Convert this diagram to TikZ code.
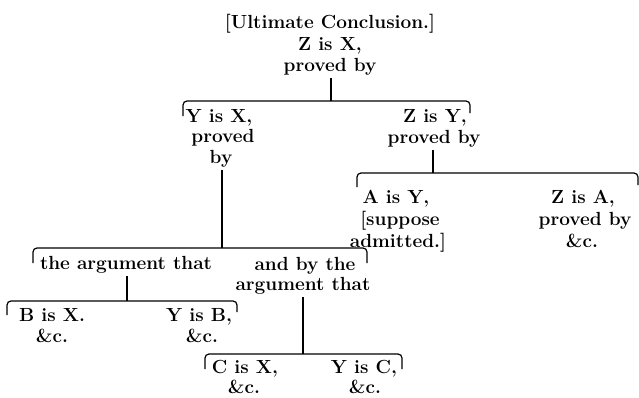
\documentclass[tikz,border=0pt]{standalone}
\usepackage{fontspec}
\begin{document}
\begin{tikzpicture}[x=1pt,y=-1pt,
  lbl/.style={font=\bfseries\fontsize{19}{21}\selectfont, inner sep=0pt, anchor=base},
  brk/.style={line width=1.2pt, rounded corners=4pt},
  stem/.style={line width=1.2pt, shorten <=3pt}]
\useasboundingbox (0,0) rectangle (639,397);
% top
\node[lbl] (uc) at (330,28) {[Ultimate Conclusion.]};
\node[lbl] (zx) at (330,50) {Z is X,};
\node[lbl] (pb0) at (330,71) {proved by};
\coordinate (b1) at (331,101);
\draw[stem] (b1 |- pb0.south) -- (b1);
\draw[brk] (183,116) -- (183,101) -- (470,101) -- (470,113);
% level 2 left
\node[lbl] (yx) at (219,122) {Y is X,};
\node[lbl] (pr1) at (223,142) {proved};
\node[lbl] (by1) at (221,163) {by};
% level 2 right
\node[lbl] (zy) at (435,122) {Z is Y,};
\node[lbl] (pb2) at (434,143) {proved by};
\coordinate (b2) at (433,173);
\draw[stem] (b2 |- pb2.south) -- (b2);
\draw[brk] (357,187) -- (357,173) -- (638,173) -- (638,185);
% level 3 right
\node[lbl] (ay) at (396,203) {A is Y,};
\node[lbl] (sup) at (400,225) {[suppose};
\node[lbl] (adm) at (398,247) {admitted.]};
\node[lbl] (za) at (583,203) {Z is A,};
\node[lbl] (pb3) at (585,225) {proved by};
\node[lbl] (c3) at (582,247) {\&c.};
% level 3 left
\coordinate (b3) at (222,248);
\draw[stem] (b3 |- by1.south) -- (b3);
\draw[brk] (33,263) -- (33,248) -- (367,248) -- (367,263);
\node[lbl] (arg1) at (126,269) {the argument that};
\node[lbl] (andby) at (305,270) {and by the};
\node[lbl] (arg2) at (303,290) {argument that};
% level 4 left
\coordinate (b4) at (127,301);
\draw[stem] (b4 |- arg1.south) -- (b4);
\draw[brk] (7,315) -- (7,301) -- (237,301) -- (237,312);
\node[lbl] (bx) at (52,321) {B is X.};
\node[lbl] (c4a) at (52,342) {\&c.};
\node[lbl] (yb) at (199,321) {Y is B,};
\node[lbl] (c4b) at (202,342) {\&c.};
% level 4 right
\coordinate (b5) at (303,354);
\draw[stem] (b5 |- arg2.south) -- (b5);
\draw[brk] (205,369) -- (205,354) -- (402,354) -- (402,369);
\node[lbl] (cx) at (245,373) {C is X,};
\node[lbl] (c5a) at (244,393) {\&c.};
\node[lbl] (yc) at (364,373) {Y is C,};
\node[lbl] (c5b) at (365,393) {\&c.};
\end{tikzpicture}
\end{document}
